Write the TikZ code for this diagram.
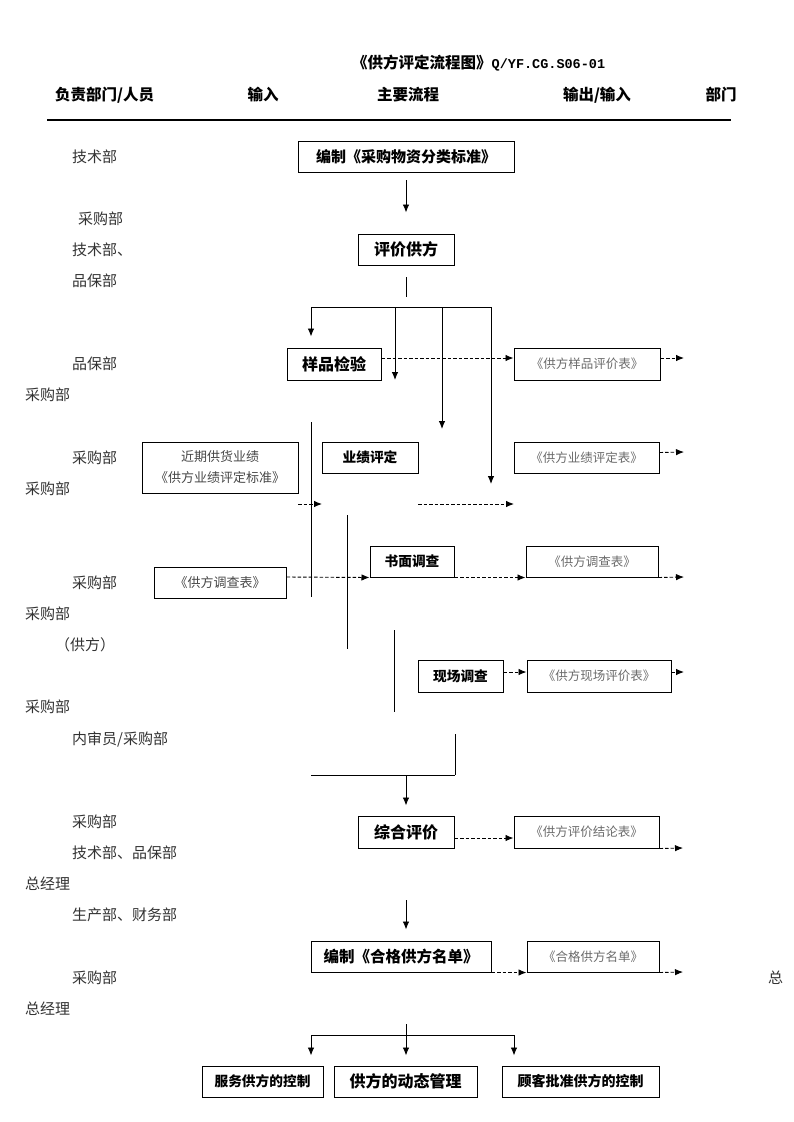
\documentclass[tikz,border=0pt]{standalone}
\usepackage{fontspec}
\setmainfont{Noto Sans CJK SC}
\newfontfamily\latinmono{Liberation Mono}
\usetikzlibrary{arrows.meta}
\begin{document}
\begin{tikzpicture}[x=1pt,y=-1pt,
  box/.style={draw, line width=1pt, inner sep=0pt, align=center},
  mainbox/.style={box, font=\bfseries\fontsize{15}{15}\selectfont},
  midbox/.style={box, font=\bfseries\fontsize{13.7}{14}\selectfont},
  formbox/.style={box, text=black!58, font=\fontsize{12.5}{16}\selectfont},
  inbox/.style={box, text=black!72, font=\fontsize{13}{21}\selectfont},
  lbl/.style={anchor=west, inner sep=0pt, text=black!80, font=\fontsize{15}{15}\selectfont},
  hdr/.style={inner sep=0pt, font=\bfseries\fontsize{15.5}{15.5}\selectfont},
  ln/.style={line width=0.9pt},
  arr/.style={ln, -{Latex[length=8pt,width=6.5pt]}},
  darr/.style={arr, dash pattern=on 3.5pt off 2pt},
]
\fill[white] (0,0) rectangle (793,1122);
\useasboundingbox (0,0) rectangle (793,1122);

% title and header
\node[hdr, anchor=west] (title) at (352,63) {《供方评定流程图》{\latinmono\bfseries\fontsize{13.5}{14}\selectfont Q/YF.CG.S06-01}};
\node[hdr, anchor=west] (h1) at (55,95) {负责部门/人员};
\node[hdr] (h2) at (263,95) {输入};
\node[hdr] (h3) at (408,95) {主要流程};
\node[hdr] (h4) at (597,95) {输出/输入};
\node[hdr] (h5) at (721,95) {部门};
\coordinate (hl1) at (47,120);
\coordinate (hl2) at (731,120);
\draw[line width=1.1pt] (hl1) -- (hl2);

% left labels
\node[lbl] (l1) at (72,157) {技术部};
\node[lbl] (l2) at (78,219) {采购部};
\node[lbl] (l3) at (72,250) {技术部、};
\node[lbl] (l4) at (72,281) {品保部};
\node[lbl] (l5) at (72,364) {品保部};
\node[lbl] (l6) at (25,395) {采购部};
\node[lbl] (l7) at (72,458) {采购部};
\node[lbl] (l8) at (25,489) {采购部};
\node[lbl] (l9) at (72,583) {采购部};
\node[lbl] (l10) at (25,614) {采购部};
\node[lbl] (l11) at (55,645) {（供方）};
\node[lbl] (l12) at (25,707) {采购部};
\node[lbl] (l13) at (72,739) {内审员/采购部};
\node[lbl] (l14) at (72,822) {采购部};
\node[lbl] (l15) at (72,853) {技术部、品保部};
\node[lbl] (l16) at (25,884) {总经理};
\node[lbl] (l17) at (72,915) {生产部、财务部};
\node[lbl] (l18) at (72,978) {采购部};
\node[lbl] (l19) at (25,1009) {总经理};
\node[lbl] (l20) at (768,978) {总};

% boxes
\node[mainbox, minimum width=216, minimum height=31] (b1) at (406,156.5) {编制《采购物资分类标准》};
\node[mainbox, minimum width=96, minimum height=31, font=\bfseries\fontsize{16}{16}\selectfont] (b2) at (406,249.5) {评价供方};
\node[mainbox, minimum width=94, minimum height=32, font=\bfseries\fontsize{16}{16}\selectfont] (b3) at (334,364) {样品检验};
\node[formbox, minimum width=146, minimum height=32] (o1) at (587,364) {《供方样品评价表》};
\node[inbox, minimum width=156, minimum height=51] (i1) at (220,467.5) {近期供货业绩\\《供方业绩评定标准》};
\node[midbox, minimum width=96, minimum height=31] (b4) at (370,457.5) {业绩评定};
\node[formbox, minimum width=145, minimum height=31] (o2) at (586.5,457.5) {《供方业绩评定表》};
\node[inbox, minimum width=132, minimum height=31] (i2) at (220,582.5) {《供方调查表》};
\node[midbox, minimum width=84, minimum height=31] (b5) at (412,561.5) {书面调查};
\node[formbox, minimum width=132, minimum height=31] (o3) at (592,561.5) {《供方调查表》};
\node[midbox, minimum width=85, minimum height=32] (b6) at (460.5,676) {现场调查};
\node[formbox, minimum width=144, minimum height=32] (o4) at (599,676) {《供方现场评价表》};
\node[mainbox, minimum width=96, minimum height=32, font=\bfseries\fontsize{16}{16}\selectfont] (b7) at (406,832) {综合评价};
\node[formbox, minimum width=145, minimum height=32] (o5) at (586.5,832) {《供方评价结论表》};
\node[mainbox, minimum width=180, minimum height=31, font=\bfseries\fontsize{15.5}{16}\selectfont] (b8) at (401,956.5) {编制《合格供方名单》};
\node[formbox, minimum width=132, minimum height=31] (o6) at (593,956.5) {《合格供方名单》};
\node[midbox, minimum width=121, minimum height=31] (e1) at (262.5,1081.5) {服务供方的控制};
\node[mainbox, minimum width=143, minimum height=31, font=\bfseries\fontsize{16}{16}\selectfont] (e2) at (405.5,1081.5) {供方的动态管理};
\node[midbox, minimum width=157, minimum height=31, font=\bfseries\fontsize{14}{14}\selectfont] (e3) at (580.5,1081.5) {顾客批准供方的控制};

% coordinates
\coordinate (c1) at (406,180);
\coordinate (c2) at (406,277);
\coordinate (c3) at (406,297);
\coordinate (s1) at (311,307);
\coordinate (s2) at (395,307);
\coordinate (s3) at (442,307);
\coordinate (s4) at (491,307);
\coordinate (t2) at (395,380);
\coordinate (t3) at (442,429);
\coordinate (t4) at (491,484);
\coordinate (r1) at (684,358);
\coordinate (v1a) at (311,422);
\coordinate (v1b) at (311,597);
\coordinate (r2) at (684,452);
\coordinate (d1a) at (298,504);
\coordinate (d1b) at (322,504);
\coordinate (d2a) at (418,504);
\coordinate (d2b) at (514,504);
\coordinate (v2a) at (347,515);
\coordinate (v2b) at (347,649);
\coordinate (r3) at (684,577);
\coordinate (v3a) at (394,630);
\coordinate (v3b) at (394,712);
\coordinate (r4) at (684,672);
\coordinate (v4a) at (455,734);
\coordinate (v4b) at (455,775);
\coordinate (m1) at (311,775);
\coordinate (m2) at (406,775);
\coordinate (r5) at (683,848);
\coordinate (n1) at (406,900);
\coordinate (r6) at (683,972);
\coordinate (k1) at (406,1024);
\coordinate (k2) at (406,1035);
\coordinate (k3) at (311,1035);
\coordinate (k4) at (514,1035);

% connectors
\draw[arr] (c1) -- ([yshift=21pt]b2.north);
\draw[ln] (c2) -- (c3);
\draw[ln] (s1) -- (s4);
\draw[arr] (s1) -- ([yshift=11pt]b3.north -| s1);
\draw[arr] (s2) -- (t2);
\draw[arr] (s3) -- (t3);
\draw[arr] (s4) -- (t4);
\draw[darr] ([yshift=6pt]b3.east) -- ([yshift=6pt]o1.west);
\draw[darr] ([yshift=6pt]o1.east) -- (r1);
\draw[ln] (v1a) -- (v1b);
\draw[darr] ([yshift=5pt]o2.east) -- (r2);
\draw[darr] (d1a) -- (d1b);
\draw[darr] (d2a) -- (d2b);
\draw[ln] (v2a) -- (v2b);
\draw[darr] ([yshift=5.5pt]i2.east) -- (b5.south west);
\draw[darr] (b5.south east) -- (o3.south west);
\draw[darr] (o3.south east) -- (r3);
\draw[ln] (v3a) -- (v3b);
\draw[darr] ([yshift=4pt]b6.east) -- ([yshift=4pt]o4.west);
\draw[darr] ([yshift=4pt]o4.east) -- (r4);
\draw[ln] (v4a) -- (v4b);
\draw[ln] (m1) -- (v4b);
\draw[arr] (m2) -- ([yshift=10pt]b7.north);
\draw[darr] ([yshift=-6pt]b7.east) -- ([yshift=-6pt]o5.west);
\draw[darr] (o5.south east) -- (r5);
\draw[arr] (n1) -- ([yshift=11pt]b8.north -| n1);
\draw[darr] (b8.south east) -- (o6.south west);
\draw[darr] (o6.south east) -- (r6);
\draw[ln] (k1) -- (k2);
\draw[ln] (k3) -- (k4);
\draw[arr] (k3) -- ([yshift=10pt]e1.north -| k3);
\draw[arr] (k2) -- ([yshift=10pt]e2.north -| k2);
\draw[arr] (k4) -- ([yshift=10pt]e3.north -| k4);
\end{tikzpicture}
\end{document}
